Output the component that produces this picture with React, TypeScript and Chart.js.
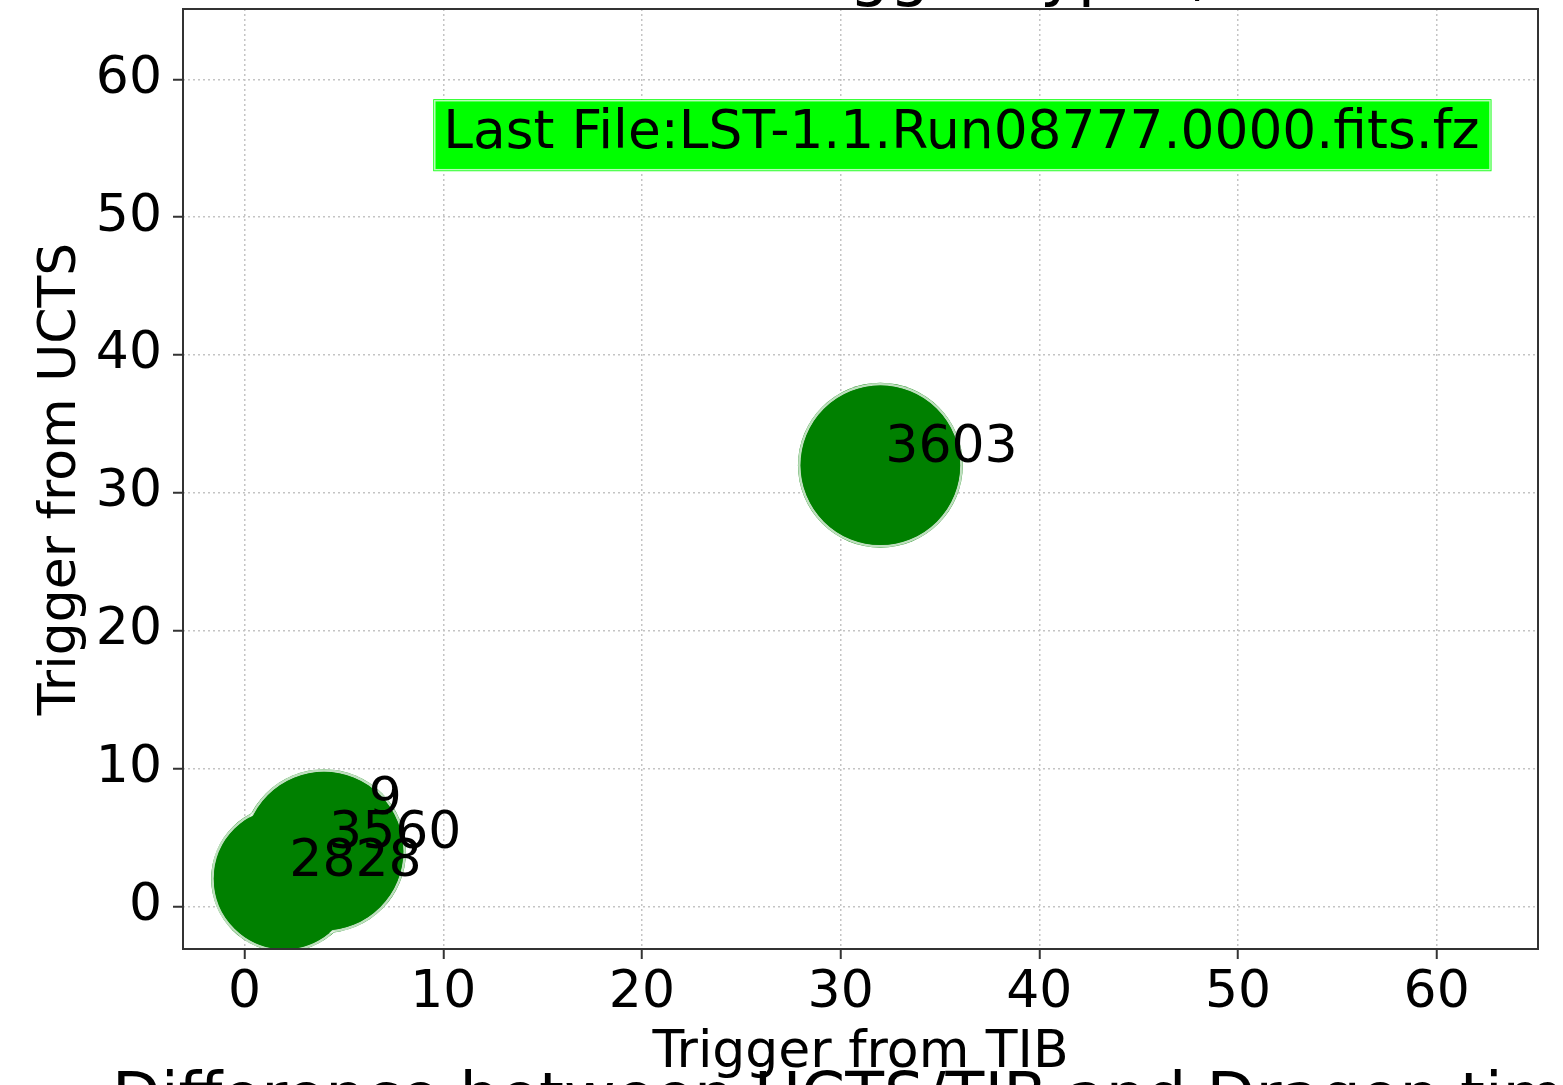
import React, { useEffect, useRef } from "react";
import { Chart, registerables } from "chart.js";

Chart.register(...registerables);

// ---- data ----
const triggerTIB = [2, 4, 6, 32];
const triggerUCTS = [2, 4, 6.5, 32];
const eventCounts = [2828, 3560, 9, 3603];
const tickValues = [0, 10, 20, 30, 40, 50, 60];
const axisMin = -3.1;
const axisMax = 65.1;
const lastFileText = "Last File:LST-1.1.Run08777.0000.fits.fz";
const lastFileX = 10;
const lastFileY = 55;
const xTitle = "Trigger from TIB";
const yTitle = "Trigger from UCTS";
const topTitle = "Trigger types, UCTS vs TIB";
const nextTitle = "Difference between UCTS/TIB and Dragon time";

const FAMILY = "'DejaVu Sans', 'Liberation Sans', sans-serif";
const GREEN = "#008000";
const SIZE_K = 1.35;

const overlayPlugin = {
  id: "overlay",
  afterDraw(chart: any) {
    const { ctx, chartArea: a, scales } = chart;
    const x = scales.x;
    const y = scales.y;
    ctx.save();
    // frame
    ctx.strokeStyle = "#333333";
    ctx.lineWidth = 2;
    ctx.strokeRect(a.left, a.top, a.right - a.left, a.bottom - a.top);

    // point annotations
    ctx.fillStyle = "#000";
    ctx.font = `52px ${FAMILY}`;
    ctx.textAlign = "left";
    ctx.textBaseline = "alphabetic";
    eventCounts.forEach((c, i) => {
      ctx.fillText(
        String(c),
        x.getPixelForValue(triggerTIB[i]) + 5,
        y.getPixelForValue(triggerUCTS[i]) - 3
      );
    });

    // last file box
    ctx.font = `53.4px ${FAMILY}`;
    const tx = x.getPixelForValue(lastFileX);
    const ty = y.getPixelForValue(lastFileY);
    const w = ctx.measureText(lastFileText).width;
    const bl = tx - 10;
    const bt = ty - 49;
    const bw = w + 22;
    const bh = 72;
    ctx.fillStyle = "#00ff00";
    ctx.fillRect(bl, bt, bw, bh);
    ctx.strokeStyle = "#b8ffb8";
    ctx.lineWidth = 1.5;
    ctx.strokeRect(bl + 1.5, bt + 1.5, bw - 3, bh - 3);
    ctx.fillStyle = "#000";
    ctx.fillText(lastFileText, tx, ty);

    // clipped figure titles
    ctx.font = `63.5px ${FAMILY}`;
    ctx.fillText(topTitle, 776, -6);
    ctx.fillText(nextTitle, 112, 1118);
    ctx.restore();
  },
};

function makeScale(title: string, isX: boolean) {
  return {
    type: "linear" as const,
    min: axisMin,
    max: axisMax,
    z: 1,
    afterBuildTicks: (s: any) => {
      s.ticks = tickValues.map((v) => ({ value: v }));
    },
    afterFit: (s: any) => {
      if (isX) s.height = 136;
      else s.width = 183;
      s.paddingTop = 0;
      s.paddingBottom = 0;
      s.paddingLeft = 0;
      s.paddingRight = 0;
    },
    grid: {
      color: "#c4c4c4",
      lineWidth: 1.5,
      drawTicks: true,
      tickLength: 10,
      tickColor: "#333333",
      tickWidth: 2,
    },
    border: { display: false, dash: [2, 3] },
    ticks: {
      color: "#000",
      font: { family: FAMILY, size: 52 },
      padding: isX ? 3 : 11,
      maxRotation: 0,
      autoSkip: false,
    },
    title: {
      display: true,
      text: title,
      color: "#000",
      font: { family: FAMILY, size: 52 },
      padding: isX ? { top: 0, bottom: 0 } : { top: 30, bottom: 0 },
    },
  };
}

export default function App() {
  const ref = useRef<HTMLCanvasElement | null>(null);

  useEffect(() => {
    if (!ref.current) return;
    const pts = (delta: number) =>
      triggerTIB.map((xv, i) => ({
        x: xv,
        y: triggerUCTS[i],
        r: Math.max(0.5, Math.sqrt(eventCounts[i]) * SIZE_K + delta),
      }));
    const chart = new Chart(ref.current, {
      type: "bubble",
      data: {
        datasets: [
          {
            data: pts(-1.4),
            backgroundColor: GREEN,
            borderWidth: 0,
            order: 1,
          },
          {
            data: pts(0),
            backgroundColor: GREEN,
            borderColor: "rgba(255,255,255,0.75)",
            borderWidth: 2.5,
            order: 2,
          },
          {
            data: pts(1.4),
            backgroundColor: GREEN,
            borderWidth: 0,
            order: 3,
          },
        ],
      },
      options: {
        responsive: true,
        maintainAspectRatio: false,
        animation: false,
        events: [],
        layout: {
          autoPadding: false,
          padding: { top: 9, right: 25, bottom: 0, left: 0 },
        },
        plugins: {
          legend: { display: false },
          tooltip: { enabled: false },
          title: { display: false },
        },
        scales: {
          x: makeScale(xTitle, true),
          y: makeScale(yTitle, false),
        },
      } as any,
      plugins: [overlayPlugin],
    });
    return () => chart.destroy();
  }, []);

  return (
    <div
      style={{
        position: "fixed",
        left: 0,
        top: 0,
        width: 1563,
        height: 1085,
        background: "#fff",
        overflow: "hidden",
      }}
    >
      <canvas ref={ref} />
    </div>
  );
}
